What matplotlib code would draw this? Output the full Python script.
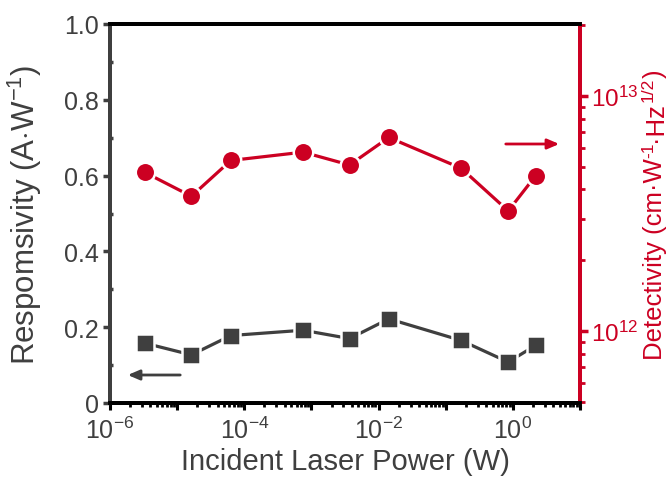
import math
import matplotlib
matplotlib.use("Agg")
import matplotlib.pyplot as plt
from matplotlib.transforms import IdentityTransform
from matplotlib.ticker import LogLocator, MultipleLocator, FuncFormatter

plt.rcParams['font.family'] = ['Liberation Sans', 'DejaVu Sans']
plt.rcParams['mathtext.fontset'] = 'custom'
plt.rcParams['mathtext.rm'] = 'Liberation Sans'
plt.rcParams['mathtext.it'] = 'Liberation Sans:italic'
plt.rcParams['mathtext.bf'] = 'Liberation Sans:bold'
plt.rcParams['axes.unicode_minus'] = False

# Data
power = [3.27e-6, 1.63e-5, 6.3e-5, 7.5e-4, 3.7e-3, 1.42e-2, 0.17, 0.853, 2.18]
responsivity = [0.158, 0.127, 0.178, 0.192, 0.170, 0.222, 0.165, 0.108, 0.152]
detectivity = [4.73e12, 3.74e12, 5.31e12, 5.76e12, 5.08e12, 6.65e12, 4.92e12, 3.24e12, 4.57e12]

# Right-axis label pieces: (text, is_superscript)
det_label = [('Detectivity (cm·W', False), ('-1', True), ('·Hz', False), ('1/2', True), (')', False)]

GRAY = '#3f3f3f'
RED = '#cc0022'
W, H = 670, 481

fig = plt.figure(figsize=(6.7, 4.81), dpi=100)
ax = fig.add_axes([110/W, 77/H, 470/W, 379/H])
ax2 = ax.twinx()

ax.plot(power, responsivity, '-', color=GRAY, lw=2.3, marker='s', ms=12.5,
        mfc=GRAY, mec='white', mew=1.8, zorder=3)
ax2.plot(power, detectivity, '-', color=RED, lw=2.3, marker='o', ms=14,
         mfc=RED, mec='white', mew=1.8, zorder=3)

ax.set_xscale('log')
ax.set_xlim(1e-6, 10)
ax.set_ylim(0, 1.0)
ax2.set_yscale('log')
ax2.set_ylim(4.94e11, 2.02e13)


def pow_label(v, p):
    e = round(math.log10(v))
    return r'$10^{%d}$' % e


def pow_label_even(v, p):
    e = round(math.log10(v))
    return r'$10^{%d}$' % e if e % 2 == 0 else ''


ax.xaxis.set_major_locator(LogLocator(base=10, numticks=20))
ax.xaxis.set_minor_locator(LogLocator(base=10, subs=range(2, 10), numticks=20))
ax.xaxis.set_major_formatter(FuncFormatter(pow_label_even))
ax.xaxis.set_minor_formatter(FuncFormatter(lambda v, p: ''))

ax.yaxis.set_major_locator(MultipleLocator(0.2))
ax.yaxis.set_minor_locator(MultipleLocator(0.1))
ax.yaxis.set_major_formatter(FuncFormatter(lambda v, p: '0' if abs(v) < 1e-9 else '%.1f' % v))

ax2.yaxis.set_major_locator(LogLocator(base=10, numticks=10))
ax2.yaxis.set_minor_locator(LogLocator(base=10, subs=range(2, 10), numticks=10))
ax2.yaxis.set_major_formatter(FuncFormatter(pow_label))
ax2.yaxis.set_minor_formatter(FuncFormatter(lambda v, p: ''))

for a in (ax, ax2):
    for s in a.spines.values():
        s.set_linewidth(2.8)
    a.spines['top'].set_color('black')
    a.spines['bottom'].set_color('black')
    a.spines['left'].set_color(GRAY)
    a.spines['right'].set_color(RED)

ax.tick_params(axis='x', which='major', direction='out', length=5, width=2.2, color='black',
               labelsize=18, labelcolor=GRAY, pad=5)
ax.tick_params(axis='x', which='minor', direction='out', length=3, width=2, color='black')
ax.tick_params(axis='y', which='major', direction='out', length=5, width=2.5, color=GRAY,
               labelsize=18, labelcolor=GRAY, pad=3)
ax.tick_params(axis='y', which='minor', direction='in', length=2, width=2.5, color=GRAY)
ax2.tick_params(axis='y', which='major', direction='out', length=6, width=2.5, color=RED,
                labelsize=17.5, labelcolor=RED, pad=2)
ax2.tick_params(axis='y', which='minor', direction='out', length=3.5, width=2, color=RED)

ax.set_xlabel('Incident Laser Power (W)', fontsize=21, color=GRAY, labelpad=3)
ax.set_ylabel(r'Respomsivity (A$\cdot$W$^{-1}$)', fontsize=22.5, color=GRAY)
ax.yaxis.set_label_coords(-0.14, 0.5)

# Right label assembled from rotated pieces (keeps superscripts compact)
fig.canvas.draw()
renderer = fig.canvas.get_renderer()
tick_x1 = max(t.get_window_extent(renderer).x1 for t in ax2.get_yticklabels() if t.get_text())
y_center = 77 + 379 / 2.0
pieces = []
for fs in [21, 20.5, 20, 19.5, 19, 18.5, 18]:
    for t in pieces:
        t.remove()
    pieces = []
    px_per_pt = 100 / 72.0
    rise = 0.36 * fs * px_per_pt
    xb = 662.0
    y = 0.0
    for txt, sup in det_label:
        t = fig.text(xb - (rise if sup else 0), y, txt, transform=IdentityTransform(),
                     rotation=90, rotation_mode='anchor', ha='left', va='baseline',
                     fontsize=fs * (0.68 if sup else 1.0), color=RED)
        pieces.append(t)
        bb = t.get_window_extent(renderer)
        y = bb.y1
    total = y
    dy = y_center - total / 2.0
    for t in pieces:
        x0, y0 = t.get_position()
        t.set_position((x0, y0 + dy))
    bbs = [t.get_window_extent(renderer) for t in pieces]
    ink_x1 = max(b.x1 for b in bbs)
    shift = min(0.0, (W - 2) - ink_x1)
    for t in pieces:
        x0, y0 = t.get_position()
        t.set_position((x0 + shift, y0))
    bbs = [t.get_window_extent(renderer) for t in pieces]
    if min(b.x0 for b in bbs) >= tick_x1 + 1:
        break

# Direction arrows
ax2.annotate('', xy=(562/W, 1 - 145/H), xytext=(503/W, 1 - 145/H),
             xycoords='figure fraction', textcoords='figure fraction',
             arrowprops=dict(arrowstyle='-|>,head_length=0.7,head_width=0.3', color=RED, lw=2))
ax2.annotate('', xy=(125/W, 1 - 376/H), xytext=(183/W, 1 - 376/H),
             xycoords='figure fraction', textcoords='figure fraction',
             arrowprops=dict(arrowstyle='-|>,head_length=0.7,head_width=0.3', color=GRAY, lw=2))

fig.savefig('out.png', dpi=100)
